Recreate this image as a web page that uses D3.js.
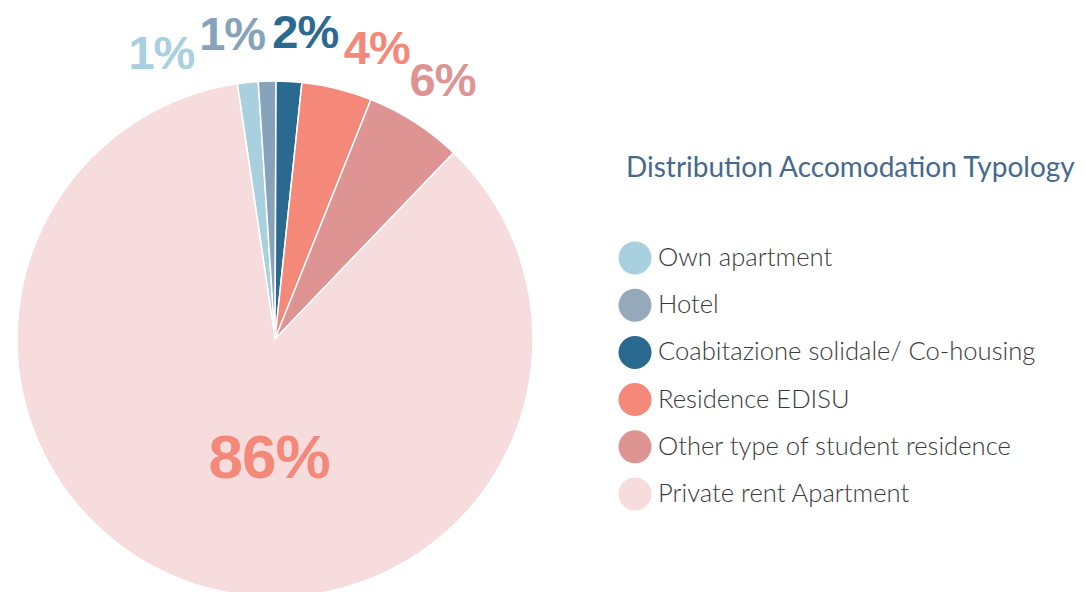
<!DOCTYPE html>
<html>
<head>
<meta charset="utf-8">
<script src="https://cdn.jsdelivr.net/npm/d3@7"></script>
<style>
  body { margin: 0; background: #fff; }
  svg { display: block; }
</style>
</head>
<body>
<svg id="chart" width="1084" height="592"></svg>
<script>
// data (shares in %)
const categories = ["Own apartment", "Hotel", "Coabitazione solidale/ Co-housing", "Residence EDISU", "Other type of student residence", "Private rent Apartment"];
const values = [1.3, 1.1, 1.6, 4.4, 6.1, 85.5];
const percentLabels = ["1%", "1%", "2%", "4%", "6%", "86%"];
const sliceColors = ["#a8d0df", "#86a3bb", "#2a6a91", "#f4897a", "#df9494", "#f6dcdc"];
const legendColors = ["#a8d0df", "#96a9bb", "#2a6a91", "#f4897a", "#df9494", "#f6dcdc"];
const labelColors = ["#a8d0df", "#86a3bb", "#2a6a91", "#f4897a", "#df9494", "#f4897a"];
const title = "Distribution Accomodation Typology";

const svg = d3.select("#chart");
const cx = 275, cy = 339, radius = 258;

const data = categories.map((c, i) => ({ name: c, value: values[i], label: percentLabels[i], i: i }));

// first slice starts a little left of twelve o'clock
const pie = d3.pie().sort(null).value(d => d.value)
  .startAngle(-8.4 * Math.PI / 180)
  .endAngle(351.6 * Math.PI / 180);
const arcs = pie(data);

const arc = d3.arc().innerRadius(0).outerRadius(radius);

const g = svg.append("g").attr("transform", `translate(${cx},${cy})`);

g.selectAll("path.slice")
  .data(arcs)
  .enter()
  .append("path")
  .attr("class", "slice")
  .attr("d", arc)
  .attr("fill", d => sliceColors[d.data.i])
  .attr("stroke", "#fff")
  .attr("stroke-width", 1.5);

// outside labels for the small slices: last one sits at its slice,
// the others are fanned out counter-clockwise with a fixed gap
const small = arcs.slice(0, 5);
const gap = 13.6 * Math.PI / 180;
const labelR = 309;
const angles = small.map(d => (d.startAngle + d.endAngle) / 2);
for (let k = angles.length - 2; k >= 0; k--) {
  angles[k] = angles[k + 1] - gap;
}

const labelFont = 47;
g.selectAll("text.outer")
  .data(small)
  .enter()
  .append("text")
  .attr("class", "outer")
  .attr("x", (d, k) => labelR * Math.sin(angles[k]))
  .attr("y", (d, k) => -labelR * Math.cos(angles[k]) + labelFont * 0.36)
  .attr("text-anchor", "middle")
  .style("font-family", "'Liberation Sans', Arial, sans-serif")
  .style("font-weight", "bold")
  .style("font-size", labelFont + "px")
  .style("letter-spacing", "-1px")
  .attr("fill", d => labelColors[d.data.i])
  .text(d => d.data.label);

// big slice label inside the pie
const big = arcs[5];
g.append("text")
  .attr("x", -6)
  .attr("y", 139)
  .attr("text-anchor", "middle")
  .style("font-family", "'Liberation Sans', Arial, sans-serif")
  .style("font-weight", "bold")
  .style("font-size", "62px")
  .style("letter-spacing", "-1px")
  .attr("fill", labelColors[big.data.i])
  .text(big.data.label);

// title + legend
svg.append("text")
  .attr("x", 626)
  .attr("y", 177)
  .style("font-family", "Lato, sans-serif")
  .style("font-size", "28px")
  .attr("fill", "#46698e")
  .text(title);

const legend = svg.append("g").attr("transform", "translate(635,258)");
const item = legend.selectAll("g.item")
  .data(categories)
  .enter()
  .append("g")
  .attr("class", "item")
  .attr("transform", (d, i) => `translate(0,${i * 47.2})`);

item.append("circle")
  .attr("r", 16.5)
  .attr("fill", (d, i) => legendColors[i]);

item.append("text")
  .attr("x", 23)
  .attr("y", 8)
  .style("font-family", "Lato, sans-serif")
  .style("font-size", "25.6px")
  .style("font-weight", 300)
  .attr("fill", "#3a3a3a")
  .text(d => d);
</script>
</body>
</html>
